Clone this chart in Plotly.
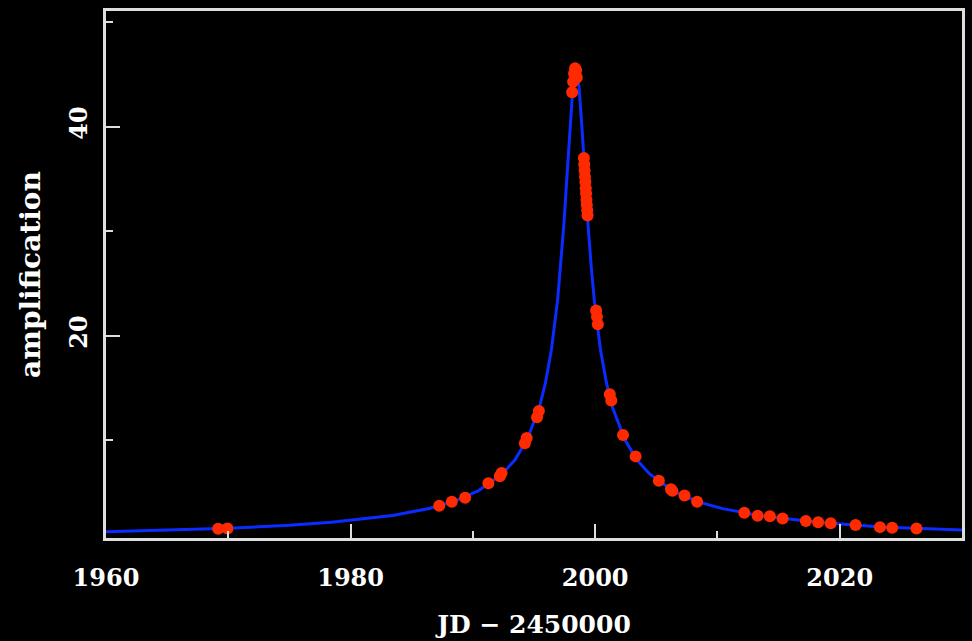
import plotly.graph_objects as go

# Model curve (JD - 2450000, amplification)
curve_t = [1960.0, 1965.0, 1970.0, 1975.0, 1978.43, 1983.43, 1986.43, 1988.43,
           1990.43, 1992.43, 1993.43, 1994.43, 1995.43, 1995.93, 1996.43, 1996.93,
           1997.18, 1997.43, 1997.68, 1997.93, 1998.18, 1998.305, 1998.43,
           1998.555, 1998.68, 1998.93, 1999.18, 1999.43, 1999.68, 1999.93,
           2000.43, 2000.93, 2001.43, 2002.43, 2003.43, 2004.43, 2006.43,
           2008.43, 2010.43, 2013.43, 2018.43, 2023.43, 2030.0]
curve_a = [1.25, 1.42, 1.58, 1.85, 2.15, 2.80, 3.47, 4.13,
           5.14, 6.80, 8.10, 10.03, 13.1, 15.45, 18.7, 23.4,
           26.6, 30.46, 34.96, 39.76, 43.8, 45.03, 45.46,
           45.03, 43.8, 39.76, 34.96, 30.46, 26.6, 23.4,
           18.7, 15.45, 13.1, 10.03, 8.10, 6.80, 5.10,
           4.10, 3.45, 2.78, 2.12, 1.70, 1.40]

# Observed points
obs_t = [1969.17, 1969.93, 1987.25, 1988.28, 1989.37, 1991.27, 1992.2, 1992.35,
         1994.25, 1994.4, 1995.25, 1995.4,
         1998.12, 1998.2, 1998.28, 1998.36, 1998.44, 1998.5,
         1999.08, 1999.11, 1999.14, 1999.17, 1999.2, 1999.23, 1999.26, 1999.29,
         1999.32, 1999.35, 1999.38,
         2000.08, 2000.15, 2000.22,
         2001.2, 2001.32, 2002.28, 2003.31, 2005.21, 2006.2, 2006.32, 2007.31,
         2008.34, 2012.2, 2013.29, 2014.29, 2015.33, 2017.23, 2018.24, 2019.26,
         2021.3, 2023.29, 2024.29, 2026.28]
obs_a = [1.52, 1.56, 3.73, 4.11, 4.50, 5.87, 6.55, 6.85,
         9.7, 10.2, 12.2, 12.8,
         43.3, 44.3, 45.1, 45.6, 45.4, 44.7,
         37.0, 36.4, 35.8, 35.2, 34.7, 34.1, 33.6, 33.0,
         32.5, 32.0, 31.5,
         22.4, 21.8, 21.1,
         14.4, 13.8, 10.5, 8.45, 6.12, 5.30, 5.15, 4.70,
         4.11, 3.06, 2.78, 2.72, 2.50, 2.27, 2.14, 2.05,
         1.88, 1.68, 1.63, 1.55]

x_ticks = [1960, 1980, 2000, 2020]
y_ticks = [20, 40]

fig = go.Figure()
fig.add_trace(go.Scatter(x=curve_t, y=curve_a, mode="lines",
                         line=dict(color="#0a2cff", width=3), hoverinfo="skip"))
fig.add_trace(go.Scatter(x=obs_t, y=obs_a, mode="markers",
                         marker=dict(color="#ff2a00", size=12, line=dict(width=0))))

font_family = "DejaVu Serif"
tick_font = dict(family=font_family, size=24, color="white", weight="bold")
xtitle_font = dict(family=font_family, size=25, color="white", weight="bold")
ytitle_font = dict(family=font_family, size=28, color="white", weight="bold")
axis_common = dict(showline=True, mirror=True, linecolor="#dedede", linewidth=3,
                   showgrid=False, zeroline=False, ticks="inside", tickcolor="#dedede",
                   tickwidth=2, ticklen=14, tickfont=tick_font)

fig.update_layout(
    width=972, height=641,
    paper_bgcolor="black", plot_bgcolor="black",
    margin=dict(l=106, r=7, t=11, b=103),
    showlegend=False,
    xaxis=dict(range=[1960, 2030], tickvals=x_ticks, ticktext=[str(v) for v in x_ticks],
               ticklabelstandoff=16,
               minor=dict(tickvals=[1970, 1990, 2010, 2030], ticklen=7, tickcolor="#dedede",
                          tickwidth=2, ticks="inside"),
               title=dict(text="JD − 2450000", standoff=25, font=xtitle_font),
               **axis_common),
    yaxis=dict(range=[0.64, 51.07], tickvals=y_ticks, ticktext=[str(v) for v in y_ticks],
               tickangle=-90, ticklabelstandoff=6,
               minor=dict(tickvals=[10, 30, 50], ticklen=7, tickcolor="#dedede",
                          tickwidth=2, ticks="inside"),
               title=dict(text="amplification", standoff=16, font=ytitle_font),
               **axis_common),
)

fig.write_html("out.html")
